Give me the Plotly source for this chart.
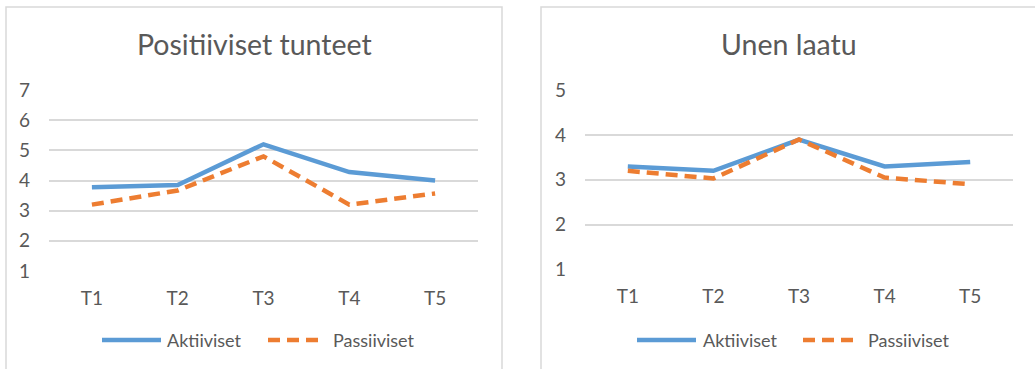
import plotly.graph_objects as go

# ---- data ----
categories = ["T1", "T2", "T3", "T4", "T5"]
pos_aktiiviset = [3.78, 3.85, 5.2, 4.28, 4.0]
pos_passiiviset = [3.2, 3.67, 4.8, 3.2, 3.57]
uni_aktiiviset = [3.3, 3.2, 3.9, 3.3, 3.4]
uni_passiiviset = [3.2, 3.03, 3.9, 3.05, 2.9]
titles = ["Positiiviset tunteet", "Unen laatu"]
series_names = ["Aktiiviset", "Passiiviset"]

W, H = 1035, 369
BLUE = "#5B9BD5"
ORANGE = "#ED7D31"
GRID = "#D9D9D9"
TEXT = "#595959"
FONT = "Lato"
DASH = "12px,7px"


def px(x):
    return x / W


def py(y):
    return 1 - y / H


fig = go.Figure()

for i, (akt, pas) in enumerate([(pos_aktiiviset, pos_passiiviset), (uni_aktiiviset, uni_passiiviset)]):
    xa = "x" if i == 0 else "x2"
    ya = "y" if i == 0 else "y2"
    fig.add_trace(go.Scatter(x=categories, y=akt, mode="lines", name=series_names[0],
                             line=dict(color=BLUE, width=4.5), xaxis=xa, yaxis=ya, showlegend=False))
    fig.add_trace(go.Scatter(x=categories, y=pas, mode="lines", name=series_names[1],
                             line=dict(color=ORANGE, width=4.5, dash=DASH), xaxis=xa, yaxis=ya, showlegend=False))

tick_font = dict(family=FONT, size=19, color=TEXT)
axis_common_x = dict(type="category", range=[-0.5, 4.5], showgrid=False, zeroline=False,
                     showline=False, ticks="", tickfont=tick_font,
                     ticklabelstandoff=14, fixedrange=True, automargin=False)
axis_common_y = dict(showgrid=True, gridcolor=GRID, gridwidth=1.5, zeroline=False, showline=False,
                     ticks="", dtick=1, tickfont=tick_font,
                     ticklabelstandoff=18, fixedrange=True, automargin=False)

fig.update_layout(
    width=W, height=H,
    margin=dict(l=0, r=0, t=0, b=0, autoexpand=False),
    paper_bgcolor="white", plot_bgcolor="white",
    xaxis=dict(domain=[px(49), px(478)], anchor="y", **axis_common_x),
    yaxis=dict(domain=[py(271), py(90)], range=[1, 7], anchor="x", **axis_common_y),
    xaxis2=dict(domain=[px(585), px(1013)], anchor="y2", **axis_common_x),
    yaxis2=dict(domain=[py(269.3), py(90.3)], range=[1, 5], anchor="x2", **axis_common_y),
)

shapes = []
annotations = []
# panel borders (left, top, right edges; bottom runs off the picture)
for (x0, x1) in [(6, 502), (541, 1040)]:
    shapes.append(dict(type="rect", xref="paper", yref="paper", x0=px(x0), x1=px(x1),
                       y0=py(380), y1=py(7), line=dict(color=GRID, width=1.5), layer="below"))

# titles
for title, cx in zip(titles, [254, 789]):
    annotations.append(dict(text=title, xref="paper", yref="paper", x=px(cx), y=py(44),
                            xanchor="center", yanchor="middle", showarrow=False,
                            font=dict(family=FONT, size=28.5, color=TEXT)))

# legends
legend_specs = [
    # (blue x0, x1, text x, orange x0, x1, text x)
    (102, 161, 165, 268, 321, 331),
    (637, 696, 701, 803, 856, 866),
]
ly = 340
for bx0, bx1, btx, ox0, ox1, otx in legend_specs:
    shapes.append(dict(type="line", xref="paper", yref="paper", x0=px(bx0), x1=px(bx1),
                       y0=py(ly), y1=py(ly), line=dict(color=BLUE, width=4.5)))
    shapes.append(dict(type="line", xref="paper", yref="paper", x0=px(ox0), x1=px(ox1),
                       y0=py(ly), y1=py(ly), line=dict(color=ORANGE, width=4.5, dash=DASH)))
    annotations.append(dict(text=series_names[0], xref="paper", yref="paper", x=px(btx), y=py(ly),
                            xanchor="left", yanchor="middle", showarrow=False,
                            font=dict(family=FONT, size=18, color=TEXT)))
    annotations.append(dict(text=series_names[1], xref="paper", yref="paper", x=px(otx), y=py(ly),
                            xanchor="left", yanchor="middle", showarrow=False,
                            font=dict(family=FONT, size=18, color=TEXT)))

fig.update_layout(shapes=shapes, annotations=annotations)
fig.write_html("out.html")
